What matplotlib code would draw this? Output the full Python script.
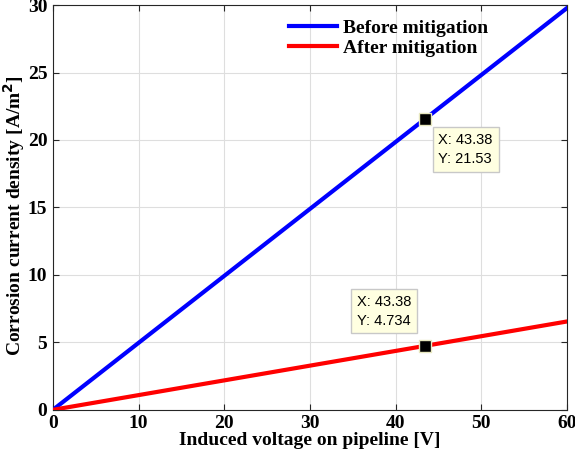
import matplotlib
matplotlib.use('Agg')
import matplotlib.pyplot as plt
import numpy as np

# data
voltage = [0, 60]
before_mitigation = [0, 29.78]
after_mitigation = [0, 6.548]
tip_x = 43.38
tip_before = 21.53
tip_after = 4.734

plt.rcParams['font.family'] = 'Liberation Serif'
plt.rcParams['font.weight'] = 'bold'
plt.rcParams['mathtext.fontset'] = 'custom'
plt.rcParams['mathtext.rm'] = 'Liberation Serif:bold'

fig = plt.figure(figsize=(5.75, 4.61), dpi=100)
ax = fig.add_axes([0.092, 0.111, 0.894, 0.878])

ax.plot(voltage, before_mitigation, color='#0000ff', lw=3, label='Before mitigation', zorder=3)
ax.plot(voltage, after_mitigation, color='#ff0000', lw=3, label='After mitigation', zorder=3)

# data tips
for y in (tip_before, tip_after):
    ax.plot(tip_x, y, 's', ms=9, mfc='black', mec='#e8e8c0', mew=1, zorder=5)
tipbox = dict(boxstyle='square,pad=0.4', fc='#ffffe1', ec='#c8c8c8', lw=1)
ax.annotate(f'X: {tip_x}\nY: {tip_before}', (tip_x, tip_before), xytext=(10, -10),
            textcoords='offset points', ha='left', va='top', fontsize=10.5,
            family='Liberation Sans', fontweight='normal', bbox=tipbox, zorder=6,
            linespacing=1.45)
ax.annotate(f'X: {tip_x}\nY: {tip_after}', (tip_x, tip_after), xytext=(-49, 37),
            textcoords='offset points', ha='left', va='top', fontsize=10.5,
            family='Liberation Sans', fontweight='normal', bbox=tipbox, zorder=6,
            linespacing=1.45)

ax.set_xlim(0, 60)
ax.set_ylim(0, 30)
ax.set_xticks(np.arange(0, 61, 10))
ax.set_yticks(np.arange(0, 31, 5))
ax.tick_params(direction='in', top=True, right=True, labelsize=14, length=4, color='#262626', pad=4)
ax.grid(True, color='#dedede', lw=0.8)
ax.set_axisbelow(True)
for s in ax.spines.values():
    s.set_color('#262626')

ax.set_xlabel('Induced voltage on pipeline [V]', fontsize=14, fontweight='bold', labelpad=0)
ax.set_ylabel(r'Corrosion current density [A/m$^{\mathbf{2}}$]', fontsize=14, fontweight='bold')
ax.yaxis.set_label_coords(-0.05, 0.48)

ax.legend(loc='upper left', bbox_to_anchor=(0.43, 1.0), frameon=False, fontsize=14,
          handlelength=2.5, handletextpad=0.3, labelspacing=0.1, borderaxespad=0.35)

fig.savefig('out.png', dpi=100)
